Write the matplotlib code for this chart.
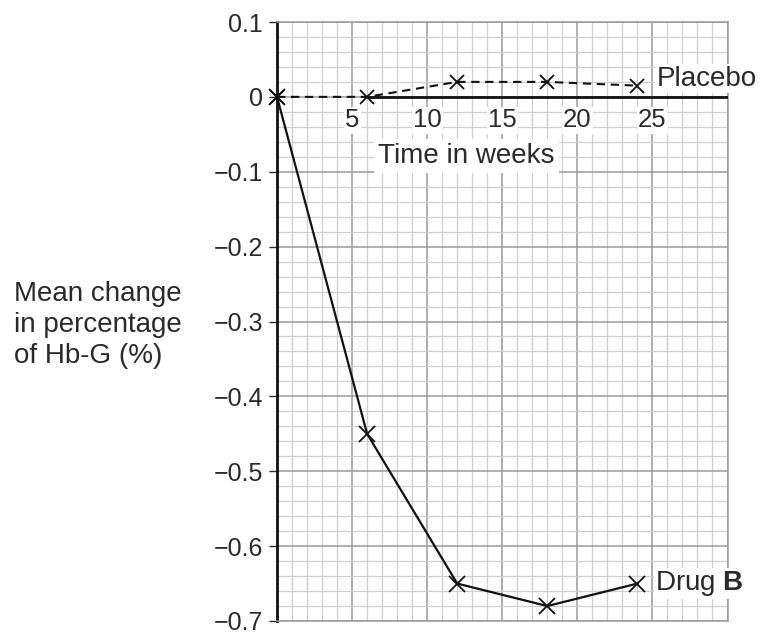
import matplotlib
matplotlib.use("Agg")
import matplotlib.pyplot as plt
from matplotlib.ticker import MultipleLocator

plt.rcParams['font.family'] = ['Liberation Sans', 'DejaVu Sans']
plt.rcParams['mathtext.fontset'] = 'custom'
plt.rcParams['mathtext.rm'] = 'Liberation Sans'
plt.rcParams['mathtext.bf'] = 'Liberation Sans:bold'

# data
weeks = [0, 6, 12, 18, 24]
placebo = [0, 0, 0.02, 0.02, 0.015]
drug_b = [0, -0.45, -0.65, -0.68, -0.65]

x_labels = [5, 10, 15, 20, 25]
y_ticks = [0.1, 0, -0.1, -0.2, -0.3, -0.4, -0.5, -0.6, -0.7]
y_labels = ['0.1', '0', '\u22120.1', '\u22120.2', '\u22120.3', '\u22120.4',
            '\u22120.5', '\u22120.6', '\u22120.7']

fig = plt.figure(figsize=(7.62, 6.36), dpi=100)
ax = fig.add_axes([277/762, 15/636, 450.5/762, 599/636])
ax.set_xlim(0, 30)
ax.set_ylim(-0.7, 0.1)

# graph paper grid
ax.xaxis.set_major_locator(MultipleLocator(5))
ax.xaxis.set_minor_locator(MultipleLocator(1))
ax.set_yticks(y_ticks)
ax.set_yticklabels(y_labels)
ax.yaxis.set_minor_locator(MultipleLocator(0.02))
ax.grid(which='major', color='#9a9a9a', lw=1.1)
ax.grid(which='minor', color='#cfcfcf', lw=0.9)
ax.set_axisbelow(True)

ax.tick_params(axis='x', which='both', length=0, labelbottom=False)
ax.tick_params(axis='y', which='minor', length=0)
ax.tick_params(axis='y', which='major', length=6, width=1, pad=4,
               labelsize=18, colors='#2a2a2a')
for s in ['top', 'right', 'bottom']:
    ax.spines[s].set_color('#9a9a9a')
    ax.spines[s].set_linewidth(1.1)
ax.spines['left'].set_color('#111111')
ax.spines['left'].set_linewidth(2)

# x axis drawn at zero
ax.hlines(0, weeks[1], 30, color='#111111', lw=2, zorder=3)

for v in x_labels:
    ax.annotate(str(v), (v, 0), xytext=(0, -17), textcoords='offset points',
                ha='center', va='center', fontsize=18.5, color='#2a2a2a',
                bbox=dict(boxstyle='square,pad=0.05', fc='white', ec='none'))

ax.text(12.6, -0.079, 'Time in weeks', ha='center', va='center', fontsize=20,
        color='#2a2a2a', bbox=dict(boxstyle='square,pad=0.15', fc='white', ec='none'))

ax.plot(weeks, placebo, color='#111111', lw=1.5, dashes=(4, 2.7),
        marker='x', ms=9.5, mew=1.3, zorder=4, clip_on=False)
ax.plot(weeks, drug_b, color='#111111', lw=1.6,
        marker='x', ms=11, mew=1.3, zorder=4, clip_on=False)

ax.annotate('Placebo', (weeks[-1], placebo[-1]), xytext=(14, 5),
            textcoords='offset points', ha='left', va='center', fontsize=20,
            color='#2a2a2a', annotation_clip=False,
            bbox=dict(boxstyle='square,pad=0.05', fc='white', ec='none'))
ax.annotate(r'Drug $\mathbf{B}$', (weeks[-1], drug_b[-1]), xytext=(13, 0),
            textcoords='offset points', ha='left', va='center', fontsize=20,
            color='#2a2a2a', annotation_clip=False,
            bbox=dict(boxstyle='square,pad=0.05', fc='white', ec='none'))

fig.text(14/762, 1 - 325/636, 'Mean change\nin percentage\nof Hb-G (%)',
         ha='left', va='center', fontsize=20, color='#2a2a2a', linespacing=1.25)

fig.savefig('out.png', dpi=100)
